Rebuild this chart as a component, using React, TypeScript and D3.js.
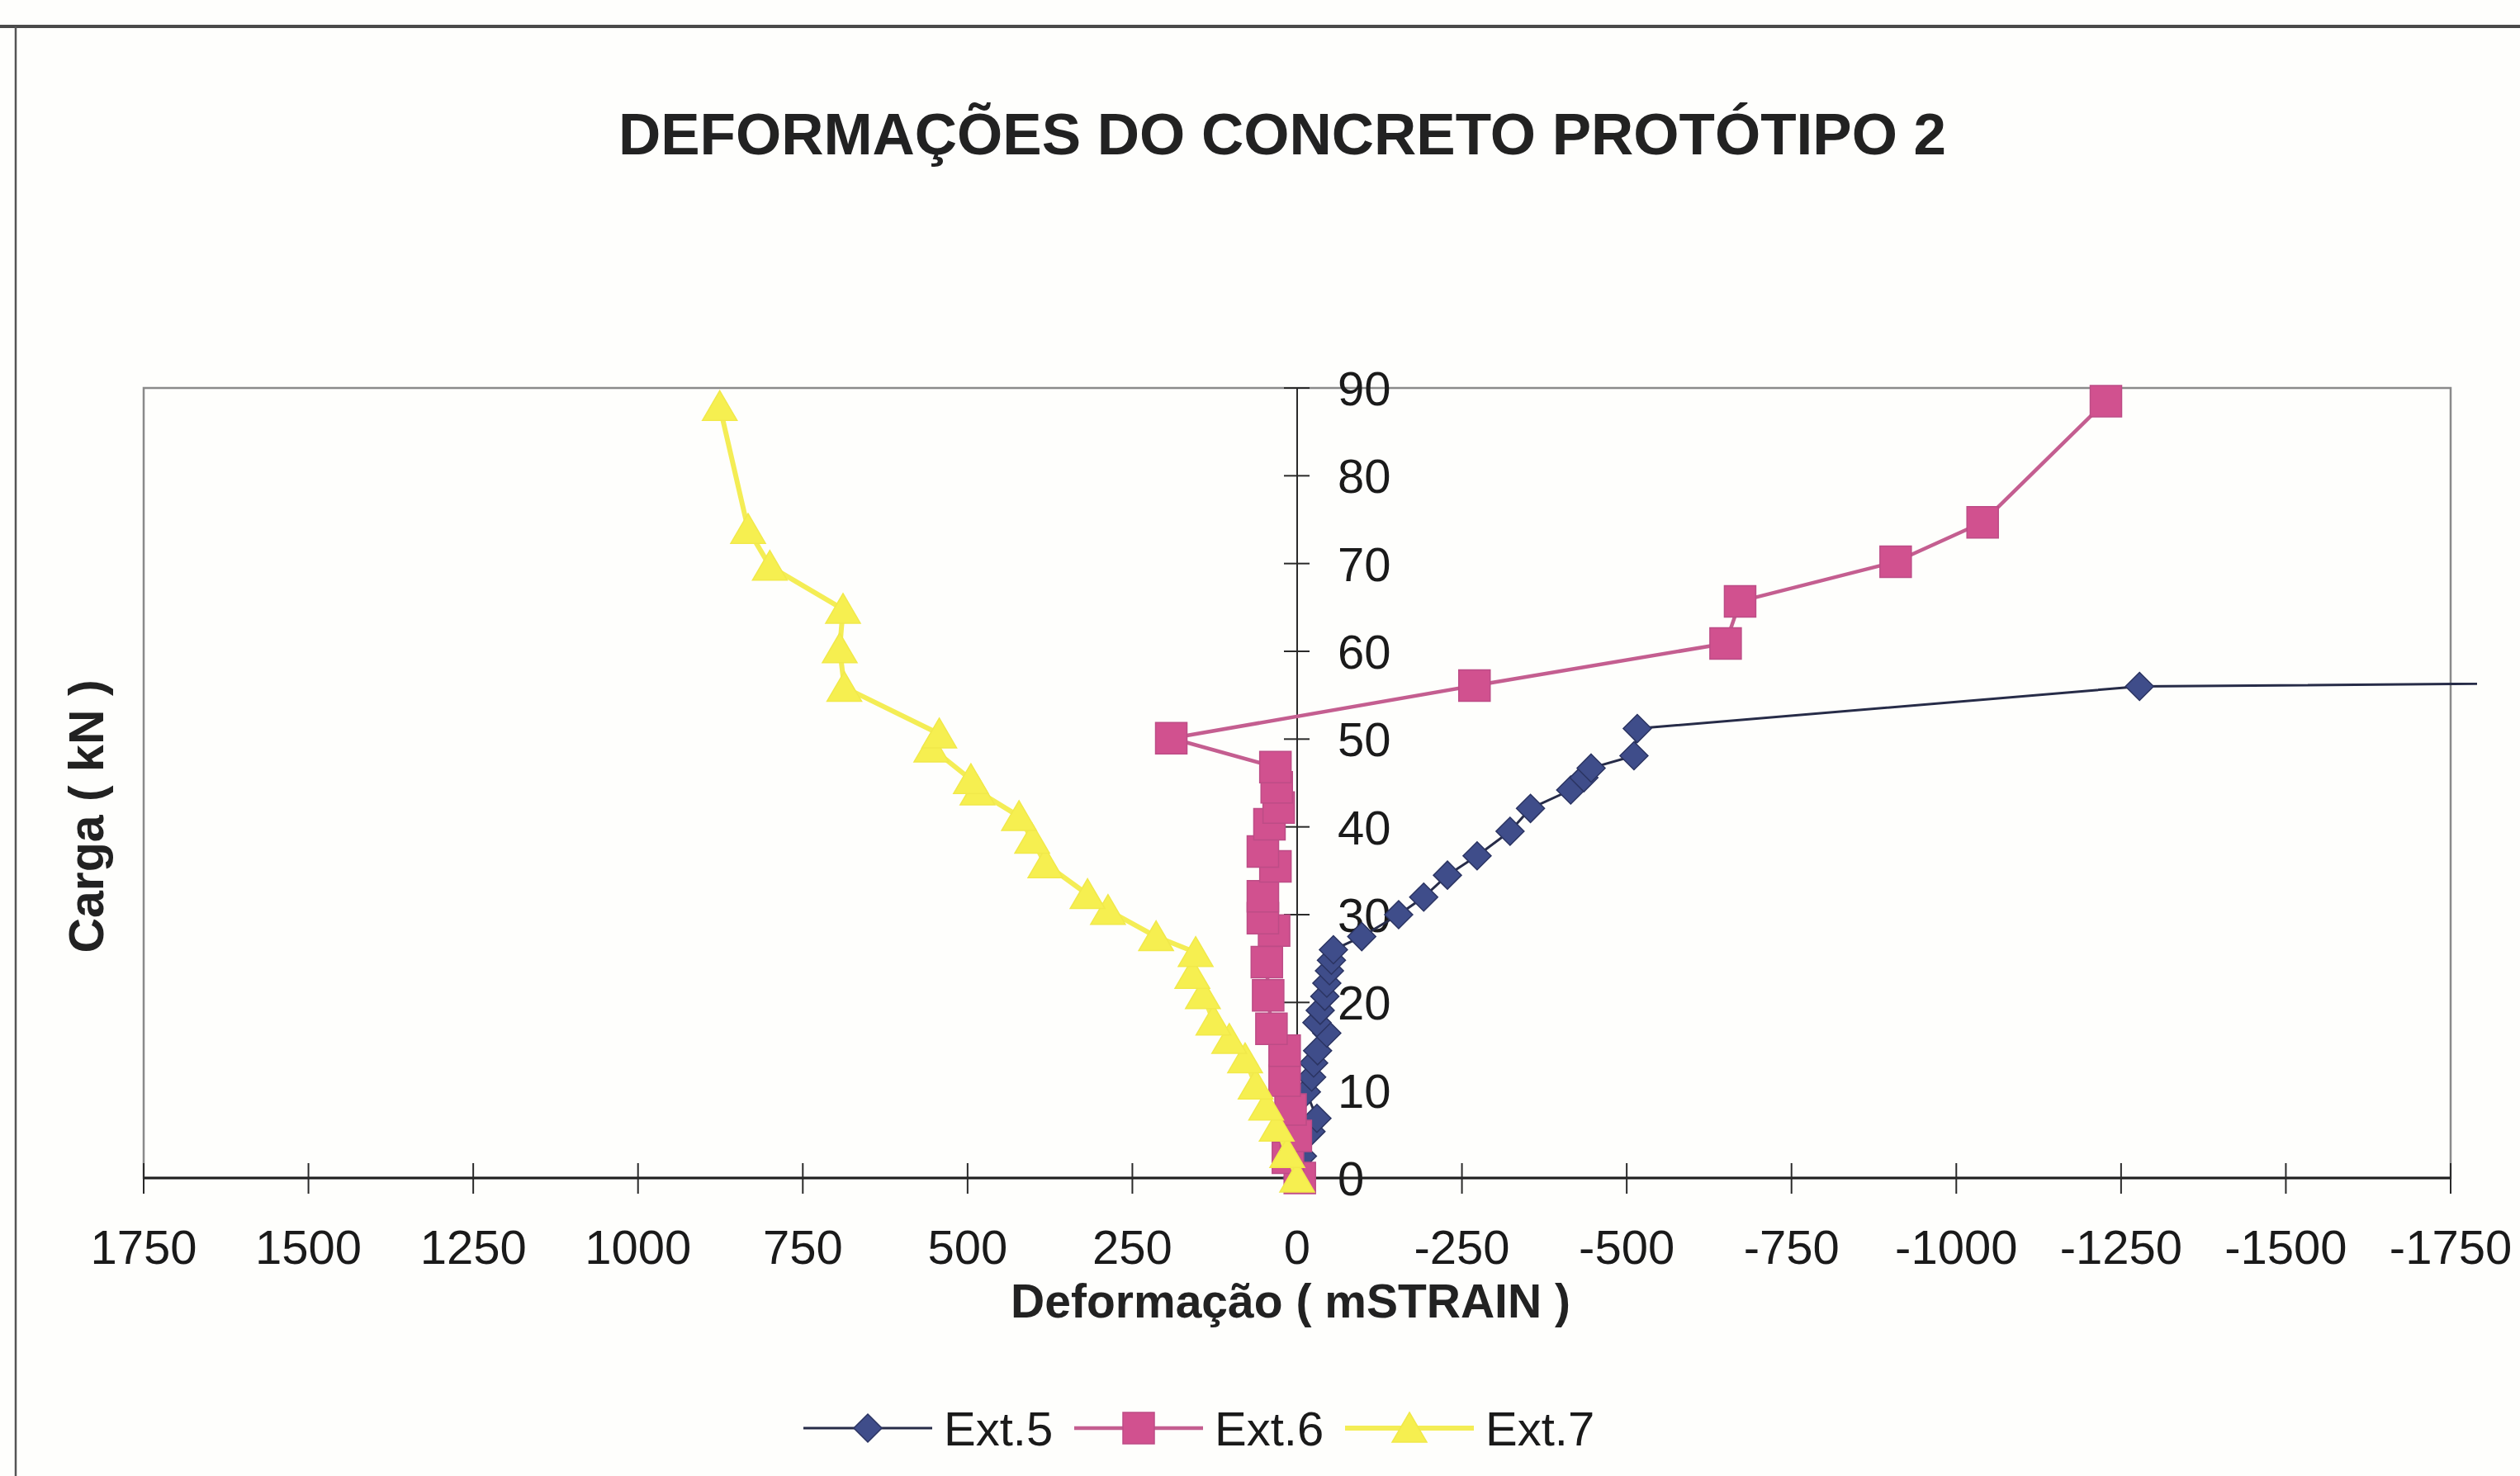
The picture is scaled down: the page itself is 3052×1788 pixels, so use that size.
import React from 'react';
import * as d3 from 'd3';

// Load (kN) against concrete strain readings for the three extensometers
const ext5Strain = [0, -8, -21, -30, -14, -22, -25, -31, -45, -30, -35, -42, -45, -49, -52, -55, -98, -154, -192, -228, -273, -323, -354, -415, -435, -446, -511, -516, -1278, -2600];
const ext5Load = [0, 2.5, 5.3, 6.8, 9.8, 11.5, 13.1, 14.5, 16.5, 17.7, 19.1, 20.7, 22.2, 23.6, 24.8, 26.0, 27.5, 30.0, 32.0, 34.5, 36.7, 39.5, 42.1, 44.2, 45.6, 46.7, 48.1, 51.2, 56.0, 56.8];

const ext6Strain = [-4, 14, 2, 10, 19, 19, 39, 44, 46, 35, 52, 52, 33, 52, 42, 28, 31, 33, 191, -269, -650, -672, -908, -1040, -1227];
const ext6Load = [0, 2.3, 4.8, 7.8, 11.1, 14.5, 17.0, 20.8, 24.6, 28.2, 29.6, 32.1, 35.5, 37.2, 40.3, 42.2, 44.5, 46.8, 50.1, 56.1, 60.9, 65.7, 70.2, 74.7, 88.5];

const ext7Strain = [0, 15, 31, 47, 63, 79, 103, 127, 143, 159, 154, 214, 287, 318, 382, 402, 422, 485, 495, 555, 543, 687, 694, 689, 800, 833, 876];
const ext7Load = [0, 2.8, 5.8, 8.2, 10.6, 13.6, 15.8, 17.9, 20.9, 23.2, 25.7, 27.5, 30.5, 32.3, 35.8, 38.6, 41.2, 44.1, 45.4, 49.0, 50.6, 55.9, 60.3, 64.8, 69.7, 73.9, 87.9];

const seriesNames = ['Ext.5', 'Ext.6', 'Ext.7'];
const xTicks = [1750, 1500, 1250, 1000, 750, 500, 250, 0, -250, -500, -750, -1000, -1250, -1500, -1750];
const yTicks = [0, 10, 20, 30, 40, 50, 60, 70, 80, 90];

const TITLE = 'DEFORMAÇÕES DO CONCRETO PROTÓTIPO 2';
const X_TITLE = 'Deformação ( mSTRAIN )';
const Y_TITLE = 'Carga ( kN )';

const W = 3052;
const H = 1788;
const plot = { left: 174, right: 2968, top: 470, bottom: 1427 };
const FONT = '"Liberation Sans", Arial, sans-serif';

type Kind = 'diamond' | 'square' | 'triangle';

const styles: { line: string; width: number; fill: string; stroke: string; kind: Kind }[] = [
  { line: '#272c48', width: 3, fill: '#3f4d8a', stroke: '#2b3462', kind: 'diamond' },
  { line: '#c45e90', width: 4.5, fill: '#d1518f', stroke: '#bd4c86', kind: 'square' },
  { line: '#f4ed55', width: 6, fill: '#f6ef50', stroke: '#f1e94a', kind: 'triangle' },
];

function markerPath(kind: Kind): string {
  const p = d3.path();
  if (kind === 'diamond') {
    const r = 17;
    p.moveTo(0, -r); p.lineTo(r, 0); p.lineTo(0, r); p.lineTo(-r, 0); p.closePath();
  } else if (kind === 'square') {
    p.rect(-19, -19, 38, 38);
  } else {
    p.moveTo(0, -19); p.lineTo(21, 17); p.lineTo(-21, 17); p.closePath();
  }
  return p.toString();
}

export default function App() {
  const x = d3.scaleLinear().domain([1750, -1750]).range([plot.left, plot.right]);
  const y = d3.scaleLinear().domain([0, 90]).range([plot.bottom, plot.top]);

  const series = [
    { strain: ext5Strain, load: ext5Load },
    { strain: ext6Strain, load: ext6Load },
    { strain: ext7Strain, load: ext7Load },
  ].map((s, i) => ({
    name: seriesNames[i],
    style: styles[i],
    points: s.strain.map((v, j) => [v, s.load[j]] as [number, number]),
  }));

  const line = d3
    .line<[number, number]>()
    .x((d) => x(d[0]))
    .y((d) => y(d[1]));

  const x0 = x(0);
  const legendStart = 973;
  const legendStep = 328;
  const legendY = 1730;

  return (
    <svg
      width={W}
      height={H}
      viewBox={`0 0 ${W} ${H}`}
      style={{ position: 'absolute', left: 0, top: 0, display: 'block', background: '#fefefc' }}
      fontFamily={FONT}
    >
      <defs>
        <clipPath id="plot-clip">
          <rect x={plot.left} y={plot.top - 30} width={plot.right - plot.left + 32} height={plot.bottom - plot.top + 60} />
        </clipPath>
      </defs>
      <rect x={0} y={0} width={W} height={H} fill="#fefefc" />

      {/* chart frame */}
      <line x1={0} x2={W} y1={32} y2={32} stroke="#4a4a4a" strokeWidth={4} />
      <line x1={19} x2={19} y1={32} y2={H} stroke="#555" strokeWidth={2.5} />

      <text x={1553} y={187} textAnchor="middle" fontSize={71} fontWeight="bold" fill="#222">
        {TITLE}
      </text>

      {/* plot area border */}
      <rect
        x={plot.left}
        y={plot.top}
        width={plot.right - plot.left}
        height={plot.bottom - plot.top}
        fill="none"
        stroke="#8a8a8a"
        strokeWidth={2.5}
      />

      {/* vertical axis at zero strain */}
      <line x1={x0} x2={x0} y1={plot.top} y2={plot.bottom} stroke="#2a2a2a" strokeWidth={2} />
      {yTicks.map((t) => (
        <g key={`y${t}`}>
          <line x1={x0 - 16} x2={x0 + 15} y1={y(t)} y2={y(t)} stroke="#2a2a2a" strokeWidth={2} />
          <text x={x0 + 49} y={y(t)} dy="0.36em" fontSize={58} fill="#1a1a1a">
            {t}
          </text>
        </g>
      ))}

      {/* horizontal axis */}
      <line x1={plot.left} x2={plot.right} y1={plot.bottom} y2={plot.bottom} stroke="#1e1e1e" strokeWidth={3} />
      {xTicks.map((t) => (
        <g key={`x${t}`}>
          <line x1={x(t)} x2={x(t)} y1={plot.bottom - 18} y2={plot.bottom + 19} stroke="#2a2a2a" strokeWidth={2} />
          <text x={x(t)} y={1531} textAnchor="middle" fontSize={58} fill="#1a1a1a">
            {String(t)}
          </text>
        </g>
      ))}

      <text x={1563} y={1596} textAnchor="middle" fontSize={57} fontWeight="bold" fill="#222">
        {X_TITLE}
      </text>
      <text
        transform={`translate(125, 989) rotate(-90)`}
        textAnchor="middle"
        fontSize={59}
        fontWeight="bold"
        fill="#222"
      >
        {Y_TITLE}
      </text>

      {/* data series */}
      {series.map((s) => (
        <g key={s.name}>
          <path
            d={line(s.points) ?? ''}
            fill="none"
            stroke={s.style.line}
            strokeWidth={s.style.width}
            strokeLinejoin="round"
            clipPath="url(#plot-clip)"
          />
          {s.points
            .filter((d) => d[0] <= 1750 && d[0] >= -1750)
            .map((d, j) => (
              <path
                key={j}
                d={markerPath(s.style.kind)}
                transform={`translate(${x(d[0])},${y(d[1])})`}
                fill={s.style.fill}
                stroke={s.style.stroke}
                strokeWidth={1.5}
              />
            ))}
        </g>
      ))}

      {/* legend */}
      {series.map((s, i) => {
        const lx = legendStart + i * legendStep;
        return (
          <g key={`leg${s.name}`}>
            <line x1={lx} x2={lx + 156} y1={legendY} y2={legendY} stroke={s.style.line} strokeWidth={s.style.width} />
            <path
              d={markerPath(s.style.kind)}
              transform={`translate(${lx + 78},${legendY})`}
              fill={s.style.fill}
              stroke={s.style.stroke}
              strokeWidth={1.5}
            />
            <text x={lx + 170} y={legendY + 21} fontSize={58} fill="#1a1a1a">
              {s.name}
            </text>
          </g>
        );
      })}
    </svg>
  );
}
